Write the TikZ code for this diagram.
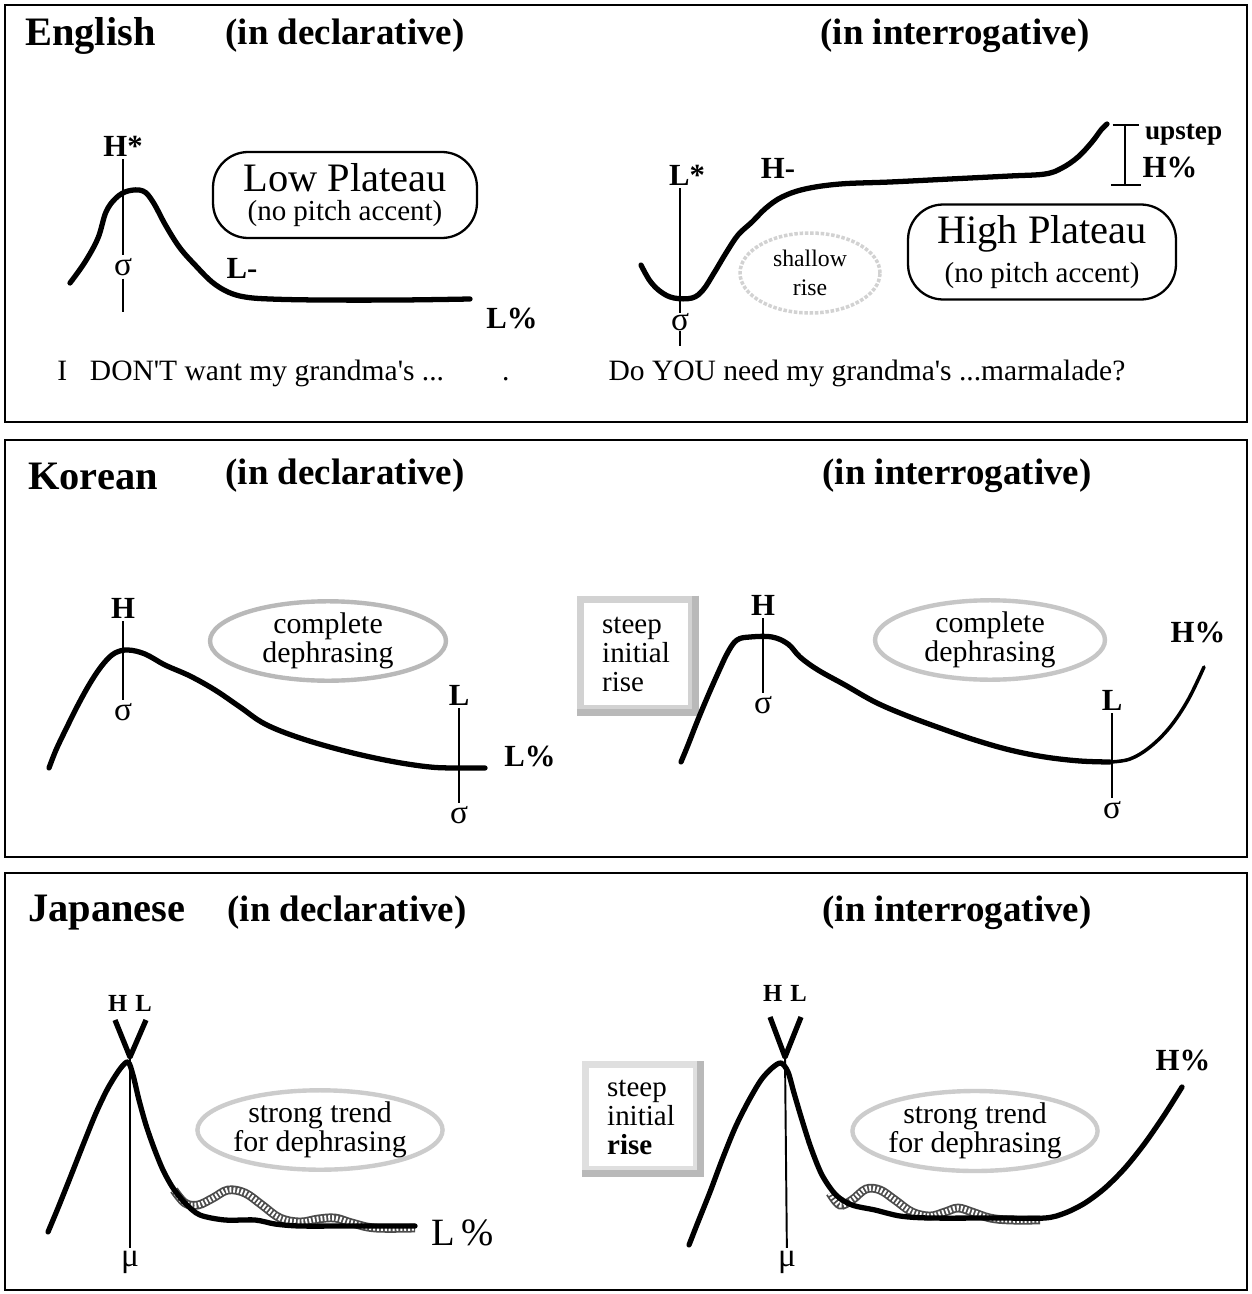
\documentclass[tikz,border=0pt]{standalone}
\usepackage{fontspec}
\setmainfont{Liberation Serif}
\usetikzlibrary{positioning, shapes.geometric}
\tikzset{
    panel/.style={draw=black, line width=1.2pt},
    title/.style={anchor=west, inner sep=0pt, font=\fontsize{23}{26}\selectfont\bfseries},
    mood/.style={inner sep=0pt, font=\fontsize{21}{24}\selectfont\bfseries},
    tone/.style={inner sep=1.5pt, font=\fontsize{17.5}{19}\selectfont\bfseries},
    hl/.style={inner sep=1pt, font=\fontsize{14}{15}\selectfont\bfseries},
    syl/.style={inner sep=1.5pt, font=\fontsize{19}{21}\selectfont},
    sent/.style={inner sep=0pt, font=\fontsize{16.8}{19}\selectfont},
    plateau/.style={rectangle, rounded corners=20pt, draw=black, line width=1.3pt, align=center, inner sep=0pt},
    haze/.style={ellipse, draw=gray!55, line width=2.5pt, align=center, inner sep=0pt, font=\fontsize{17}{16.5}\selectfont},
    faint/.style={ellipse, draw=gray!35, line width=2pt, densely dotted, align=center, inner sep=0pt, font=\fontsize{13.5}{16.5}\selectfont},
    stipple/.style={rectangle, draw=gray!35, line width=4pt, align=left, inner sep=0pt, minimum width=2.24cm, minimum height=2.2cm, font=\fontsize{16.5}{16.5}\selectfont},
    shadow/.style={draw=gray!55, line width=4pt},
    stem/.style={line width=1.1pt},
    contour/.style={line width=3pt, line cap=round, line join=round},
    tail/.style={line width=2pt, line cap=round},
    hatch/.style={draw=black!70, line width=5pt, line cap=butt, postaction={draw=white, line width=3pt, dash pattern=on 1.1pt off 1.1pt}}
}

\begin{document}
\begin{tikzpicture}[x=0.02cm, y=-0.02cm]
    \useasboundingbox (0,0) rectangle (1251,1294);
    \fill[white] (0,0) rectangle (1251,1294);

    % panels
    \draw[panel] (5,5) rectangle (1247,422);
    \draw[panel] (5,440) rectangle (1247,857);
    \draw[panel] (5,873) rectangle (1247,1290);

    % ---------- English ----------
    \node (eng) [title] at (25,36) {English};
    \node (engdecl) [mood] at (345,36) {(in declarative)};
    \node (enginter) [mood] at (955,36) {(in interrogative)};

    \node (hstar) [tone] at (123,146) {H*};
    \node (sigA) [syl] at (123,267) {σ};
    \coordinate (sigAend) at (123,312);
    \draw[stem] (hstar) -- (sigA);
    \draw[stem] (sigA) -- (sigAend);
    \draw[contour] plot[smooth, tension=0.6] coordinates {(70,283) (85,262) (98,238) (106,212) (116,198) (128,191) (143,191) (153,202) (166,226) (180,248) (196,266) (212,282) (228,292) (245,297) (270,299) (320,300) (400,300) (470,299)};
    \node (lminus) [tone] at (242,268) {L-};
    \node (lpct) [tone] at (512,318) {L\%};
    \node (lowplat) [plateau, minimum width=5.28cm, minimum height=1.72cm] at (345,195)
        {\fontsize{23}{24}\selectfont Low Plateau\\[5pt]\fontsize{16.5}{19}\selectfont (no pitch accent)};
    \node (sentA) [sent, anchor=west] at (57,373) {I\hspace{13pt}DON\textquotesingle T want my grandma\textquotesingle s ...\hspace{33pt}.};

    \node (lstar) [tone] at (687,175) {L*};
    \node (sigB) [syl, inner sep=0pt] at (680,322) {σ};
    \coordinate (sigBend) at (680,346);
    \draw[stem] (lstar.south -| sigB) -- (sigB);
    \draw[stem] (sigB) -- (sigBend);
    \node (hminus) [tone] at (778,168) {H-};
    \draw[contour] plot[smooth, tension=0.6] coordinates {(641,265) (650,281) (661,292) (674,298) (692,298) (703,290) (714,273) (726,253) (738,235) (752,222) (766,208) (782,197) (805,189) (840,184) (890,182) (950,179) (1010,176) (1045,174) (1062,168) (1078,157) (1092,142) (1101,130) (1107,124)};
    \coordinate (uptop) at (1125,125);
    \coordinate (upbot) at (1125,185);
    \draw[stem] ([xshift=-7pt]uptop) -- ([xshift=8pt]uptop);
    \draw[stem] (uptop) -- (upbot);
    \draw[stem] ([xshift=-8pt]upbot) -- ([xshift=9pt]upbot);
    \node (upstep) [tone, anchor=west, font=\fontsize{15.5}{17}\selectfont\bfseries] at (1142,135) {upstep};
    \node (hpct) [tone] at (1170,167) {H\%};
    \node (shallow) [faint, minimum width=2.8cm, minimum height=1.6cm] at (810,273) {shallow\\rise};
    \node (highplat) [plateau, minimum width=5.36cm, minimum height=1.9cm] at (1042,252)
        {\fontsize{23}{24}\selectfont High Plateau\\[5pt]\fontsize{16.5}{19}\selectfont (no pitch accent)};
    \node (sentB) [sent] at (867,373) {Do YOU need my grandma\textquotesingle s ...marmalade?};

    % ---------- Korean ----------
    \node (kor) [title] at (28,476) {Korean};
    \node (kordecl) [mood] at (345,476) {(in declarative)};
    \node (korinter) [mood] at (957,476) {(in interrogative)};

    \node (hK) [tone] at (123,608) {H};
    \node (sK) [syl] at (123,712) {σ};
    \draw[stem] (hK) -- (sK);
    \draw[contour] plot[smooth, tension=0.6] coordinates {(49,768) (56,750) (66,729) (79,703) (92,680) (104,663) (115,653) (128,650) (145,654) (165,665) (190,676) (215,690) (240,707) (265,724) (300,738) (345,751) (390,761) (430,767) (460,768) (485,768)};
    \node (lK) [tone] at (459,695) {L};
    \node (sKend) [syl] at (459,815) {σ};
    \draw[stem] (lK) -- (sKend);
    \node (lpctK) [tone] at (530,756) {L\%};
    \node (dephA) [haze, minimum width=4.72cm, minimum height=1.4cm] at (328,641) {complete\\dephrasing};

    \node (steepK) [stipple] at (636,654) {steep\\initial\\rise};
    \draw[shadow] (steepK.north east) -- (steepK.south east) -- (steepK.south west);
    \node (hKq) [tone] at (763,605) {H};
    \node (sKq) [syl] at (763,705) {σ};
    \draw[stem] (hKq) -- (sKq);
    \draw[contour] plot[smooth, tension=0.6] coordinates {(681,762) (688,745) (697,722) (707,698) (718,673) (728,652) (737,640) (750,637) (772,637) (788,644) (800,657) (818,670) (845,685) (875,702) (905,715) (940,728) (975,740) (1010,750) (1045,757) (1080,761) (1110,762)};
    \draw[tail] plot[smooth, tension=0.6] coordinates {(1110,762) (1130,759) (1150,747) (1170,727) (1188,700) (1204,667)};
    \node (lKq) [tone] at (1112,700) {L};
    \node (sKqend) [syl] at (1112,810) {σ};
    \draw[stem] (lKq) -- (sKqend);
    \node (hpctK) [tone] at (1198,632) {H\%};
    \node (dephB) [haze, draw=gray!45, minimum width=4.6cm, minimum height=1.44cm] at (990,640) {complete\\dephrasing};

    % ---------- Japanese ----------
    \node (jap) [title] at (28,913) {Japanese};
    \node (japdecl) [mood] at (347,913) {(in declarative)};
    \node (japinter) [mood] at (957,913) {(in interrogative)};

    \node (hlA) [hl] at (130,1003) {H\,\,L};
    \coordinate (vAl) at (115,1020);
    \coordinate (vA) at (130,1057);
    \coordinate (vAr) at (146,1020);
    \draw[contour, line cap=butt] (vAl) -- (vA) -- (vAr);
    \node (muA) [syl] at (130,1262) {μ};
    \draw[stem] (vA) -- (muA);
    \draw[hatch] plot[smooth, tension=0.6] coordinates {(174,1190) (185,1203) (198,1205) (213,1198) (228,1190) (245,1193) (262,1205) (280,1218) (300,1222) (318,1219) (335,1218) (352,1223) (375,1228) (415,1228)};
    \draw[contour] plot[smooth, tension=0.5] coordinates {(48,1232) (58,1208) (70,1178) (83,1145) (96,1113) (108,1088) (120,1069) (128,1062) (133,1075) (139,1100) (146,1125) (154,1148) (163,1170) (173,1188) (186,1204) (200,1215) (225,1220) (255,1220) (275,1224) (300,1226) (350,1226) (415,1226)};
    \node (lpctJ) [syl, font=\fontsize{22}{24}\selectfont] at (463,1233) {L\,\%};
    \node (trendA) [haze, draw=gray!40, minimum width=4.8cm, minimum height=1.52cm] at (320,1130) {strong trend\\for dephrasing};

    \node (steepJ) [stipple, draw=gray!25, minimum height=2.1cm] at (641,1117) {steep\\initial\\\textbf{rise}};
    \draw[shadow] (steepJ.north east) -- (steepJ.south east) -- (steepJ.south west);
    \node (hlB) [hl] at (785,993) {H\,\,L};
    \coordinate (vBl) at (770,1017);
    \coordinate (vB) at (785,1057);
    \coordinate (vBr) at (801,1017);
    \draw[contour, line cap=butt] (vBl) -- (vB) -- (vBr);
    \node (muB) [syl] at (787,1262) {μ};
    \draw[stem] (vB) -- (muB);
    \draw[hatch] plot[smooth, tension=0.6] coordinates {(830,1193) (840,1205) (852,1200) (866,1189) (880,1190) (895,1200) (912,1212) (930,1216) (945,1212) (958,1208) (972,1212) (990,1218) (1010,1220) (1040,1220)};
    \draw[contour] plot[smooth, tension=0.5] coordinates {(689,1245) (698,1222) (710,1192) (722,1160) (735,1128) (748,1102) (761,1080) (772,1068) (781,1063) (788,1072) (794,1093) (802,1120) (811,1148) (822,1175) (836,1195) (852,1205) (875,1210) (900,1216) (930,1218) (1000,1218) (1045,1218) (1065,1213) (1085,1203) (1105,1188) (1125,1168) (1145,1143) (1165,1114) (1182,1087)};
    \node (hpctJ) [tone] at (1183,1060) {H\%};
    \node (trendB) [haze, draw=gray!40, minimum width=4.8cm, minimum height=1.6cm] at (975,1131) {strong trend\\for dephrasing};
\end{tikzpicture}
\end{document}
